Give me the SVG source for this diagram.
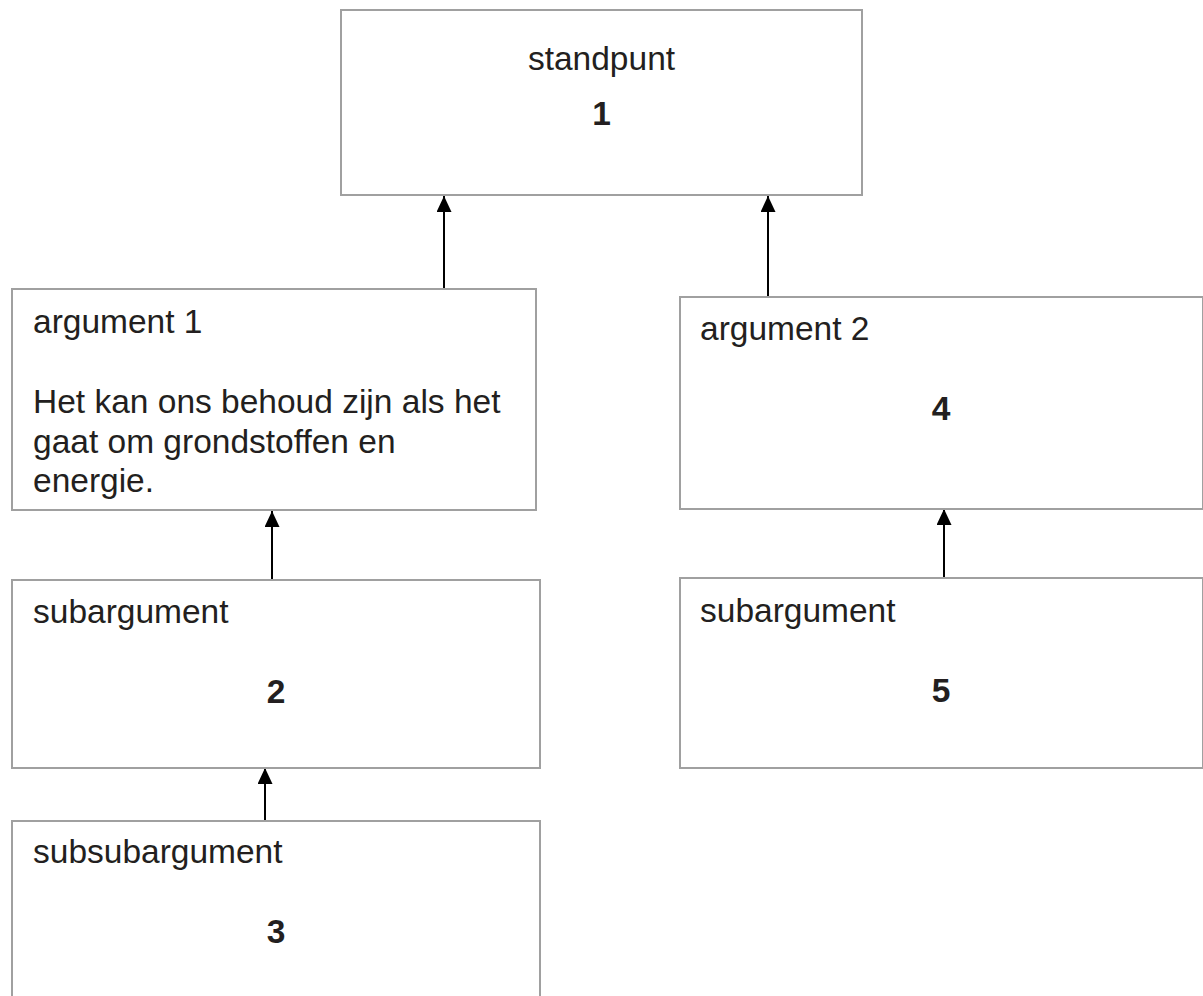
<svg xmlns="http://www.w3.org/2000/svg" width="1203" height="996" viewBox="0 0 1203 996">
<defs>
<style>
.box{fill:#ffffff;stroke:#a0a0a0;stroke-width:2}
.t{font-family:"Liberation Sans",Arial,sans-serif;font-size:33.5px;fill:#231f20}
.n{font-family:"Liberation Sans",Arial,sans-serif;font-size:33.5px;font-weight:bold;fill:#231f20;text-anchor:middle}
.c{stroke:#000000;stroke-width:2;fill:none;marker-end:url(#arr)}
</style>
<marker id="arr" viewBox="0 0 16 15" refX="16" refY="7.5" markerWidth="16" markerHeight="15" markerUnits="userSpaceOnUse" orient="auto">
<path d="M0,0 L16,7.5 L0,15 z" fill="#000000"/>
</marker>
</defs>
<rect x="0" y="0" width="1203" height="996" fill="#ffffff"/>
<g id="connectors">
<line class="c" x1="444" y1="289" x2="444" y2="196"/>
<line class="c" x1="768" y1="297" x2="768" y2="196"/>
<line class="c" x1="272" y1="580" x2="272" y2="511"/>
<line class="c" x1="265" y1="821" x2="265" y2="768"/>
<line class="c" x1="944" y1="578" x2="944" y2="509"/>
</g>
<g id="n1">
<rect class="box" x="341" y="10" width="521" height="185"/>
<text class="t" x="601.5" y="70" text-anchor="middle">standpunt</text>
<text class="n" x="601.5" y="125">1</text>
</g>
<g id="n2">
<rect class="box" x="12" y="289" width="524" height="221"/>
<text class="t" x="33" y="333">argument 1</text>
<text class="t" x="33" y="413">Het kan ons behoud zijn als het</text>
<text class="t" x="33" y="453">gaat om grondstoffen en</text>
<text class="t" x="33" y="492">energie.</text>
</g>
<g id="n3">
<rect class="box" x="12" y="580" width="528" height="188"/>
<text class="t" x="33" y="623">subargument</text>
<text class="n" x="276" y="703">2</text>
</g>
<g id="n4">
<rect class="box" x="12" y="821" width="528" height="200"/>
<text class="t" x="33" y="863">subsubargument</text>
<text class="n" x="276" y="943">3</text>
</g>
<g id="n5">
<rect class="box" x="680" y="297" width="523" height="212"/>
<text class="t" x="700" y="340">argument 2</text>
<text class="n" x="941" y="420">4</text>
</g>
<g id="n6">
<rect class="box" x="680" y="578" width="523" height="190"/>
<text class="t" x="700" y="622">subargument</text>
<text class="n" x="941" y="702">5</text>
</g>
</svg>
